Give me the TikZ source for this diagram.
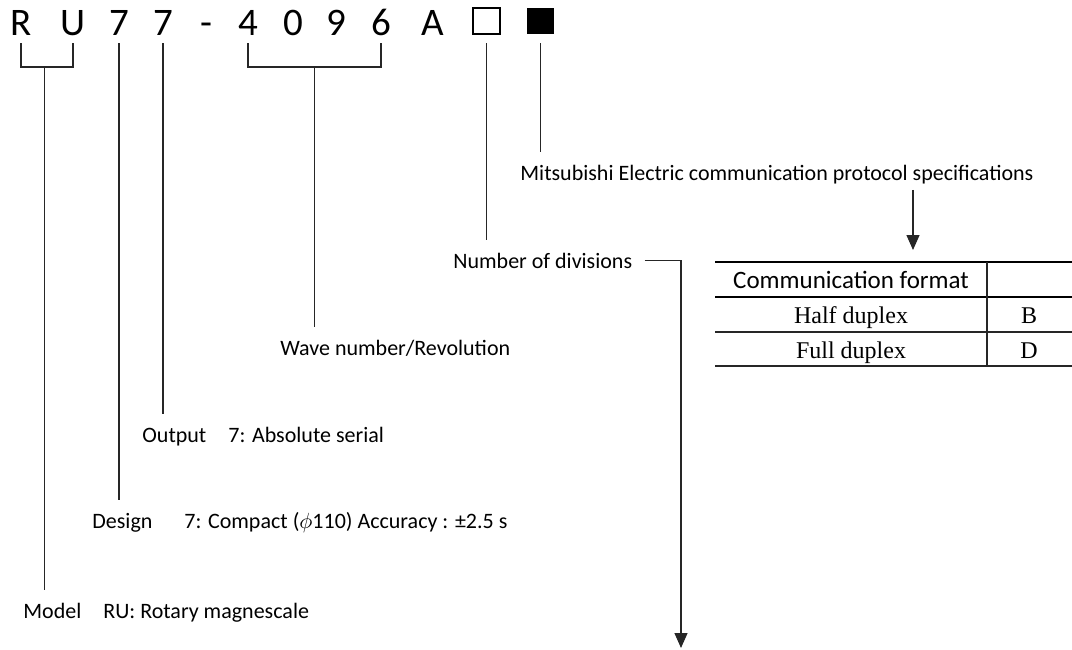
\documentclass[tikz,border=0pt]{standalone}
\usepackage{fontspec}
\setmainfont{Carlito}
\newfontfamily\cellfont{Liberation Serif}
\usetikzlibrary{arrows.meta,calc,positioning}
\tikzset{
    code/.style={font=\fontsize{19.5}{21}\selectfont, inner sep=0pt, anchor=base},
    sq/.style={minimum width=13.5pt, minimum height=13pt, inner sep=0pt, line width=1.4pt},
    lbl/.style={font=\fontsize{11}{13}\selectfont, inner sep=0pt, anchor=base west},
    cell/.style={font=\cellfont\fontsize{12}{14}\selectfont, inner sep=0pt, anchor=base},
    lead/.style={line width=0.65pt, black!85},
    gap/.style={shorten >=6pt},
    arr/.style={lead, -{Triangle[length=7.5pt,width=6.5pt]}},
    rule/.style={line width=1.3pt},
    hair/.style={line width=0.65pt, black!85},
  }
\begin{document}
\begin{tikzpicture}[x=0.5pt,y=-0.5pt]
				  %x,y in pixels of the sheet
				  \useasboundingbox (0,0) rectangle (1072,649);
				  \coordinate (top) at (0,43);
				  \coordinate (brk) at (0,67);
				  %code
				  \node[code] (R) at (21,35) {R};
				  \node[code] (U) at (73,35) {U};
				  \node[code] (design) at (119,35) {7};
				  \node[code] (output) at (163,35) {7};
				  \node[code] (dash) at (206,35) {-};
				  \node[code] (d4) at (248,35) {4};
				  \node[code] (d0) at (293,35) {0};
				  \node[code] (d9) at (336,35) {9};
				  \node[code] (d6) at (381,35) {6};
				  \node[code] (A) at (433,35) {A};
				  \node[sq,draw] (divbox) at (486.5,21) {};
				  \node[sq,fill=black] (protobox) at (540.5,21) {};
				  %labels
				  \node[lbl] (model) at (23,618) {Model\hspace{11pt}RU: Rotary magnescale};
				  \node[lbl] (designl) at (92,528) {Design\hspace{16pt}7: Compact ($\phi$110) Accuracy : \textpm2.5 s};
				  \node[lbl] (outputl) at (142,442) {Output\hspace{11pt}7: Absolute serial};
				  \node[lbl] (wave) at (280,355) {Wave number/Revolution};
				  \node[lbl] (ndiv) at (453,268) {Number of divisions};
				  \node[lbl] (mel) at (520,180) {Mitsubishi Electric communication protocol specifications};
				  \coordinate (ndivend) at (681,648);
				  \coordinate (tabin) at (913,250);
				  %leaders
				  \coordinate (ru) at ($(R |- brk)!0.45!(U |- brk)$);
				  \coordinate (wv) at ($(d4 |- brk)!0.5!(d6 |- brk)$);
				  \draw[lead] (R |- top) -- (R |- brk) -- (U |- brk) -- (U |- top);
				  \draw[lead,gap] (ru) -- (ru |- model.north);
				  \draw[lead,gap] (design |- top) -- (design |- designl.north);
				  \draw[lead,gap] (output |- top) -- (output |- outputl.north);
				  \draw[lead] (d4 |- top) -- (d4 |- brk) -- (d6 |- brk) -- (d6 |- top);
				  \draw[lead,gap] (wv) -- (wv |- wave.north);
				  \draw[lead,gap] (divbox |- top) -- (divbox |- ndiv.north);
				  \draw[lead,gap] (protobox |- top) -- (protobox |- mel.north);
				  \draw[arr] ([xshift=6pt]ndiv.east) -| (ndivend);
				  \draw[arr,shorten <=3pt] (tabin |- mel.south) -- (tabin);
				  %table
				  \draw[rule] (715,262) -- (1072,262);
				  \draw[rule] (715,297) -- (1072,297);
				  \draw[hair] (715,332) -- (1072,332);
				  \draw[hair] (715,366) -- (1072,366);
				  \draw[hair] (987,262) -- (987,366);
				  \node[lbl,anchor=base,font=\fontsize{12.5}{14}\selectfont] (hdr) at (851,288) {Communication format};
				  \node[cell] (half) at (851,323) {Half duplex};
				  \node[cell] (fdx) at (851,358) {Full duplex};
				  \node[cell] (b) at (1029,323) {B};
				  \node[cell] (d) at (1029,358) {D};
				  \end{tikzpicture}
\end{document}
